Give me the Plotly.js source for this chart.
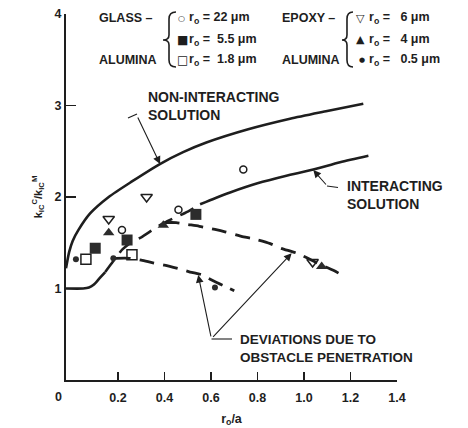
<!DOCTYPE html>
<html><head><meta charset="utf-8">
<script src="https://cdn.plot.ly/plotly-3.0.1.min.js"></script>
<style>html,body{margin:0;padding:0;background:#fff;} #chart{width:468px;height:428px;}</style>
</head><body><div id="chart"></div>
<script>
// ---- data ----
const nonInteractX = [-0.0237, -0.01, 0.005, 0.03, 0.08, 0.16, 0.26, 0.38, 0.48, 0.58, 0.76, 0.94, 1.10, 1.255];
const nonInteractY = [1.22, 1.40, 1.52, 1.64, 1.82, 2.00, 2.17, 2.36, 2.49, 2.595, 2.74, 2.855, 2.94, 3.02];

const interactLowX = [-0.0237, 0.05, 0.075, 0.095, 0.12, 0.145];
const interactLowY = [1.00, 1.00, 1.01, 1.04, 1.11, 1.18];
const interactDashX = [0.145, 0.18, 0.22, 0.26, 0.30, 0.36, 0.40, 0.45, 0.50, 0.553];
const interactDashY = [1.18, 1.30, 1.43, 1.51, 1.56, 1.66, 1.72, 1.78, 1.84, 1.92];
const interactHighX = [0.553, 0.62, 0.682, 0.80, 0.92, 1.04, 1.155, 1.277];
const interactHighY = [1.92, 1.99, 2.05, 2.15, 2.23, 2.30, 2.38, 2.45];

const devUpperX = [0.40, 0.45, 0.50, 0.55, 0.617, 0.66, 0.74, 0.78, 0.855, 0.90, 0.97, 1.04, 1.09, 1.126, 1.16];
const devUpperY = [1.72, 1.72, 1.70, 1.68, 1.645, 1.62, 1.565, 1.545, 1.49, 1.44, 1.385, 1.30, 1.24, 1.20, 1.15];
const devLowerX = [0.19, 0.25, 0.30, 0.35, 0.40, 0.47, 0.51, 0.56, 0.59, 0.62, 0.655, 0.70];
const devLowerY = [1.33, 1.33, 1.31, 1.28, 1.255, 1.21, 1.18, 1.15, 1.11, 1.07, 1.03, 0.975];

const glass22X = [0.217, 0.46, 0.739];
const glass22Y = [1.64, 1.86, 2.30];
const glass55X = [0.102, 0.239, 0.535];
const glass55Y = [1.44, 1.53, 1.81];
const alumina18X = [0.062, 0.26];
const alumina18Y = [1.32, 1.37];
const epoxy6X = [0.16, 0.323, 1.037];
const epoxy6Y = [1.76, 2.00, 1.29];
const epoxy4X = [0.16, 0.395, 1.076];
const epoxy4Y = [1.61, 1.69, 1.24];
const alumina05X = [0.019, 0.18, 0.617];
const alumina05Y = [1.32, 1.33, 1.01];

const xTickVals = [0.2, 0.4, 0.6, 0.8, 1.0, 1.2, 1.4];
const xTickText = ['0.2', '0.4', '0.6', '0.8', '1.0', '1.2', '1.4'];
const yTickVals = [1, 2, 3, 4];
const yTickText = ['1', '2', '3', '4'];

// ---- layout helpers ----
const W = 468, H = 428, L = 66, R = 71, T = 14, B = 48;
const pw = W - L - R, ph = H - T - B;
const px = x => (x - L) / pw;
const py = y => (H - B - y) / ph;
const INK = '#1e1e1e';
const FF = 'Liberation Sans, Arial, sans-serif';
const bold = (size) => ({family: FF, size: size, color: INK, weight: 'bold'});

function line(x, y, dash, width) {
  return {x: x, y: y, mode: 'lines', type: 'scatter', hoverinfo: 'skip',
    line: {color: INK, width: width || 2.6, dash: dash || 'solid', shape: 'spline', smoothing: 0.7}};
}
function pts(x, y, symbol, size, filled) {
  return {x: x, y: y, mode: 'markers', type: 'scatter', hoverinfo: 'skip',
    marker: {symbol: symbol, size: size, color: filled ? '#2c2c2c' : INK,
      line: {color: INK, width: filled ? 0 : 1.5}}};
}

const dashPat = '15px,9px';
const traces = [
  line(nonInteractX, nonInteractY),
  line(interactLowX, interactLowY),
  line(interactDashX, interactDashY, dashPat),
  line(interactHighX, interactHighY),
  line(devUpperX, devUpperY, dashPat, 2.8),
  line(devLowerX, devLowerY, dashPat, 2.8),
  pts(glass22X, glass22Y, 'circle-open', 7, false),
  pts(glass55X, glass55Y, 'square', 11, true),
  pts(alumina18X, alumina18Y, 'square-open', 10, false),
  pts(epoxy6X, epoxy6Y, 'triangle-down-open', 10, false),
  pts(epoxy4X, epoxy4Y, 'triangle-up', 10, true),
  pts(alumina05X, alumina05Y, 'circle', 6, true)
];

function txt(x, y, text, size, xanchor, family) {
  const f = bold(size);
  if (family) f.family = family;
  return {xref: 'paper', yref: 'paper', x: px(x), y: py(y), text: text, showarrow: false,
    xanchor: xanchor || 'left', yanchor: 'middle', align: 'left', font: f};
}
function arrow(hx, hy, ax, ay) {
  return {x: hx, y: hy, xref: 'x', yref: 'y', ax: ax, ay: ay, text: '', showarrow: true,
    arrowhead: 2, arrowsize: 1.4, arrowwidth: 1.1, arrowcolor: INK, standoff: 0, startstandoff: 0};
}

const lg = 12.5; // legend font size
const SYM = 'DejaVu Sans, sans-serif';
const annotations = [
  // legend block
  txt(97, 18, 'GLASS –', lg),
  txt(97, 60, 'ALUMINA', lg),
  txt(176, 18, '○', 8, 'left', SYM),
  txt(175, 40, '■', 12, 'left', SYM),
  txt(175, 60, '□', 12, 'left', SYM),
  txt(187, 18, 'r<sub>o</sub> = 22 μm', lg),
  txt(187, 40, 'r<sub>o</sub> =\u00a0\u00a05.5 μm', lg),
  txt(187, 60, 'r<sub>o</sub> =\u00a0\u00a01.8 μm', lg),
  txt(280, 18, 'EPOXY –', lg),
  txt(280, 60, 'ALUMINA', lg),
  txt(354, 18, '▽', 11, 'left', SYM),
  txt(354, 40, '▲', 11, 'left', SYM),
  txt(357, 60, '●', 7, 'left', SYM),
  txt(367, 18, 'r<sub>o</sub> =\u00a0\u00a0\u00a06 μm', lg),
  txt(367, 40, 'r<sub>o</sub> =\u00a0\u00a0\u00a04 μm', lg),
  txt(367, 60, 'r<sub>o</sub> =\u00a0\u00a0\u00a00.5 μm', lg),
  // curve labels
  txt(146, 106, 'NON-INTERACTING<br>SOLUTION', 14),
  txt(345, 195, 'INTERACTING<br>SOLUTION', 14),
  txt(238, 348, 'DEVIATIONS DUE TO<br>OBSTACLE PENETRATION', 13.5),
  // origin label
  txt(58, 397, '0', 12.5, 'center'),
  // arrows (head in data coords, tail offset in pixels)
  arrow(0.381, 2.36, -23, -48),
  arrow(1.04, 2.295, 14, 16),
  arrow(0.545, 1.148, 13, 63),
  arrow(0.947, 1.385, -80, 85)
];

function brace(xTip, xBar, xEnd, yTop, yMid, yBot) {
  const p = (x, y) => px(x).toFixed(4) + ',' + py(y).toFixed(4);
  return {type: 'path', xref: 'paper', yref: 'paper', line: {color: INK, width: 1.6},
    path: 'M' + p(xEnd, yTop) + ' Q' + p(xBar, yTop) + ' ' + p(xBar, yTop + 7) +
      ' L' + p(xBar, yMid - 5) + ' Q' + p(xBar, yMid) + ' ' + p(xTip, yMid) +
      ' Q' + p(xBar, yMid) + ' ' + p(xBar, yMid + 5) +
      ' L' + p(xBar, yBot - 7) + ' Q' + p(xBar, yBot) + ' ' + p(xEnd, yBot)};
}
function seg(x0, y0, x1, y1) {
  return {type: 'line', xref: 'paper', yref: 'paper', x0: px(x0), y0: py(y0), x1: px(x1), y1: py(y1),
    line: {color: INK, width: 1.1}};
}
const shapes = [
  brace(163, 169, 176, 12, 40, 67),
  brace(342, 347, 353, 12, 40, 67),
  seg(128, 118, 137, 114),
  seg(327, 186, 338, 187.5),
  seg(211.5, 339, 232, 339)
];

const layout = {
  width: W, height: H, margin: {l: L, r: R, t: T, b: B},
  paper_bgcolor: '#fff', plot_bgcolor: '#fff', showlegend: false,
  font: bold(12.5),
  xaxis: {range: [-0.0237, 1.4], tickvals: xTickVals, ticktext: xTickText,
    ticks: 'inside', ticklen: 8, tickwidth: 1.5, tickcolor: INK, ticklabelstandoff: 5,
    showline: true, linewidth: 2, linecolor: INK, showgrid: false, zeroline: false,
    tickfont: bold(12.5), title: {text: 'r<sub>o</sub>/a', font: bold(12.5), standoff: 10}},
  yaxis: {range: [0, 4], tickvals: yTickVals, ticktext: yTickText,
    ticks: 'inside', ticklen: 10, tickwidth: 1.5, tickcolor: INK,
    showline: true, linewidth: 2, linecolor: INK, showgrid: false, zeroline: false,
    tickfont: bold(12.5),
    title: {text: 'k<sub>IC</sub><sup>C</sup>/k<sub>IC</sub><sup>M</sup>', font: bold(11), standoff: 10}},
  annotations: annotations, shapes: shapes
};

Plotly.newPlot('chart', traces, layout, {staticPlot: true, displayModeBar: false});
</script>
</body></html>
